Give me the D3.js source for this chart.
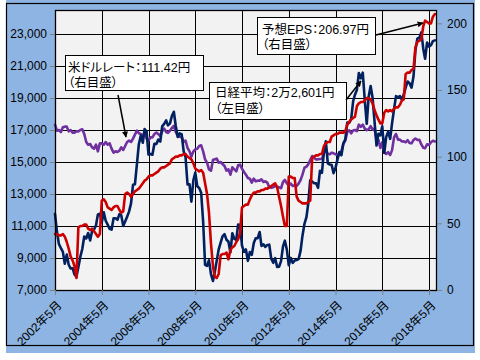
<!DOCTYPE html>
<html><head><meta charset="utf-8">
<script src="https://cdn.jsdelivr.net/npm/d3@7"></script>
<style>body{margin:0;background:#fff}svg{display:block}text{font-family:"Liberation Sans","Noto Sans CJK JP",sans-serif;fill:#000}.note{font-feature-settings:"palt"}</style>
</head><body><svg id="c" width="480" height="360"></svg>
<script>
// Monthly data, 2002年5月 .. 2018年8月 (196 months)
const nikkei=[
11764,10622,9878,9619,9383,8640,9216,8579,
8340,8363,7973,7831,8425,9083,9563,10344,10219,10560,10101,10677,
10784,11042,11715,11762,11236,11859,11326,11082,10824,10771,11489,11489,
11388,11741,11669,11009,11277,11584,11900,12414,13574,13607,14872,16111,
16650,16205,17060,16906,15467,15505,15457,16141,16128,16399,16274,17226,
17383,17604,17288,17400,17876,18138,17249,16569,16786,16737,15681,15308,
13592,13603,12526,13850,14338,13481,13377,13073,11260,8577,8512,8860,
7994,7568,8110,8828,9523,9958,10357,10493,10133,10035,9346,10546,
10198,10126,11090,11057,9768,9383,9537,8824,9369,9202,9937,10229,
10238,10624,9755,9850,9694,9816,9833,8955,8700,8988,8435,8455,
8803,9723,10084,9521,8543,9007,8695,8840,8870,8928,9446,10395,
11139,11559,12398,13861,13775,13677,13668,13389,14456,14328,15662,16291,
14915,14841,14828,14304,14632,15162,15621,15425,16174,16414,17460,17451,
17674,18798,19207,19520,20563,20236,20585,18890,17388,19083,19747,19034,
17518,16027,16759,16666,17235,15576,16569,16887,16450,17425,18308,19114,
19041,19119,18909,19197,19651,20033,19925,19646,20356,22012,22725,22765,
23098,22068,21454,22468,22202,22305,22554,22601];
const eps=[
42,42,41,41,42,40,36,31,
25,22,18,9,47,48,48,49,49,46,45,46,
44,42,40,42,67,68,66,62,61,60,62,63,
63,60,58,59,72,73,72,70,72,74,75,76,
78,80,82,83,85,86,86,87,88,89,91,92,
92,93,94,95,98,99,100,100,101,101,102,102,
100,99,98,95,91,90,89,90,88,80,72,58,
35,18,10,9,12,26,27,27,28,23,30,32,
33,36,38,43,62,63,64,64,68,71,73,73,
74,74,75,75,76,76,77,78,79,80,77,70,
63,55,48,48,85,85,84,84,70,67,66,65,
65,65,66,67,99,100,101,101,102,102,108,110,
111,111,115,116,117,117,118,118,118,119,124,126,
128,129,130,138,140,141,141,142,144,144,143,140,
135,131,128,125,125,133,135,134,135,134,136,137,
137,139,142,143,162,163,163,165,166,182,186,187,
188,198,202,201,200,200,205,206.97];
const usdjpy=[
124.0,119.5,120.0,118.5,122.0,122.5,122.5,119.0,
120.0,118.0,118.0,119.0,119.0,120.0,120.5,117.0,111.0,109.0,109.5,107.0,
106.0,109.0,104.0,110.0,110.0,109.0,111.0,109.0,110.0,106.0,103.0,104.0,
103.5,104.5,107.0,105.0,108.0,111.0,112.0,111.0,113.5,116.5,119.5,117.5,
117.0,116.0,117.5,113.5,112.0,114.5,114.5,117.0,118.0,117.0,115.5,119.0,
121.0,118.5,117.8,119.5,121.5,123.0,118.5,115.5,114.8,115.0,111.0,112.0,
106.5,104.0,100.0,104.0,105.5,106.0,108.0,108.5,104.0,98.0,95.5,90.5,
89.5,97.5,98.0,98.5,95.5,96.0,94.5,93.0,89.5,90.5,86.5,92.0,
90.5,89.0,93.5,94.0,91.0,88.5,86.5,84.0,83.5,80.5,83.5,81.5,
82.0,82.0,83.0,81.0,81.5,80.5,77.0,76.6,77.0,78.0,77.5,77.0,
76.3,81.0,82.5,80.0,78.5,79.8,78.0,78.5,78.0,79.8,82.5,86.5,
91.7,92.5,94.2,97.5,100.5,99.0,98.0,98.0,98.2,98.3,102.4,105.3,
102.0,101.8,103.0,102.5,101.8,101.3,102.8,104.0,109.7,112.0,118.6,119.8,
117.5,119.6,120.0,119.2,124.0,122.4,124.0,121.0,119.9,120.6,122.9,120.4,
121.0,112.7,112.6,106.5,110.7,103.3,102.0,103.4,101.3,104.9,114.5,117.0,
112.8,112.8,111.4,111.5,110.8,112.4,110.3,110.0,112.5,113.6,112.5,112.7,
109.2,106.7,106.3,109.3,108.8,110.8,111.9,111.42];
const months=d3.timeMonth.range(new Date(2002,4,1),new Date(2018,8,1));
const xTickYears=[2002,2004,2006,2008,2010,2012,2014,2016,2018];
const xTickLabels=["2002年5月","2004年5月","2006年5月","2008年5月","2010年5月","2012年5月","2014年5月","2016年5月","2018年5月"];
const leftTicks=[7000,9000,11000,13000,15000,17000,19000,21000,23000];
const rightTicks=[0,50,100,150,200];
const notes=[
 {lines:["米ドルレート：111.42円","（右目盛）"]},
 {lines:["日経平均：2万2,601円","（左目盛）"]},
 {lines:["予想EPS：206.97円","（右目盛）"]}
];

const svg=d3.select("#c");
const L=55,R=437,T=10,B=290;
const x=d3.scaleTime().domain([new Date(2002,4,1),new Date(2018,8,3)]).range([L,R]);
const yL=d3.scaleLinear().domain([7000,24500]).range([B,T]);
const yR=d3.scaleLinear().domain([0,210]).range([B,T]);

// panel
svg.append("rect").attr("x",6).attr("y",0).attr("width",469).attr("height",353).attr("fill","#8db4e2");
svg.append("rect").attr("x",6.5).attr("y",3.5).attr("width",467).attr("height",342).attr("fill","none").attr("stroke","#000").attr("stroke-width",1.2);
svg.append("rect").attr("x",L).attr("y",T).attr("width",R-L).attr("height",B-T).attr("fill","#f2f2f2");

// grid
const g=svg.append("g").attr("stroke","#000").attr("stroke-width",1);
leftTicks.slice(1).forEach(v=>g.append("line").attr("x1",L).attr("x2",R).attr("y1",Math.round(yL(v))+0.5).attr("y2",Math.round(yL(v))+0.5));
const tickDates=xTickYears.map(yy=>new Date(yy,4,1));
tickDates.slice(1).forEach(d=>g.append("line").attr("y1",T).attr("y2",B).attr("x1",Math.round(x(d))+0.5).attr("x2",Math.round(x(d))+0.5));

// lines
function draw(data,ys,color){
  const line=d3.line().x((d,i)=>x(months[i])).y(d=>ys(d));
  svg.append("path").datum(data).attr("d",line).attr("fill","none").attr("stroke",color)
    .attr("stroke-width",2.6).attr("stroke-linejoin","round").attr("stroke-linecap","round");
}
draw(usdjpy,yR,"#7030a0");
draw(nikkei,yL,"#002060");
draw(eps,yR,"#cc0000");

// plot border
svg.append("rect").attr("x",L+0.5).attr("y",T+0.5).attr("width",R-L-1).attr("height",B-T).attr("fill","none").attr("stroke","#000").attr("stroke-width",1.3);

// axes
const axL=d3.axisLeft(yL).tickValues(leftTicks).tickFormat(d3.format(",")).tickSize(5).tickPadding(3);
const gl=svg.append("g").attr("transform",`translate(${L},0)`).call(axL);
const axR=d3.axisRight(yR).tickValues(rightTicks).tickSize(5).tickPadding(5);
const gr=svg.append("g").attr("transform",`translate(${R},0)`).call(axR);
const axB=d3.axisBottom(x).tickValues(tickDates).tickFormat((d,i)=>xTickLabels[i]).tickSize(5);
const gb=svg.append("g").attr("transform",`translate(0,${B})`).call(axB);
[gl,gr,gb].forEach(a=>{a.select(".domain").remove();a.selectAll(".tick line").attr("stroke","#808080");
  a.selectAll("text").attr("font-size",12).attr("fill","#000").attr("font-family",'"Liberation Sans","Noto Sans CJK JP",sans-serif');});
gb.selectAll(".tick text").attr("text-anchor","end").attr("dy","0.35em").attr("y",0)
  .attr("transform","translate(4,13) rotate(-45)");

// annotations
const boxes=[[65,55,138,35,68],[209,82,137,37,215],[257,17,118,37,262]];
const base=[[72,87],[97,113],[34,49]];
notes.forEach((n,i)=>{
  const [bx,by,bw,bh,tx]=boxes[i];
  svg.append("rect").attr("x",bx+0.5).attr("y",by+0.5).attr("width",bw).attr("height",bh).attr("fill","#fff").attr("stroke","#000").attr("stroke-width",1);
  n.lines.forEach((t,j)=>svg.append("text").attr("class","note").attr("x",tx).attr("y",base[i][j]).attr("font-size",12.5).text(t));
});
const defs=svg.append("defs");
defs.append("marker").attr("id","ah").attr("viewBox","0 0 10 10").attr("refX",9).attr("refY",5)
  .attr("markerWidth",6).attr("markerHeight",6).attr("orient","auto").attr("markerUnits","userSpaceOnUse")
  .append("path").attr("d","M0,0L10,5L0,10z").attr("fill","#000");
const arrows=[[118,95,126,137],[346,100,361,81],[376,35,423,23]];
arrows.forEach(a=>svg.append("line").attr("x1",a[0]).attr("y1",a[1]).attr("x2",a[2]).attr("y2",a[3])
  .attr("stroke","#000").attr("stroke-width",1.5).attr("marker-end","url(#ah)"));
</script></body></html>
